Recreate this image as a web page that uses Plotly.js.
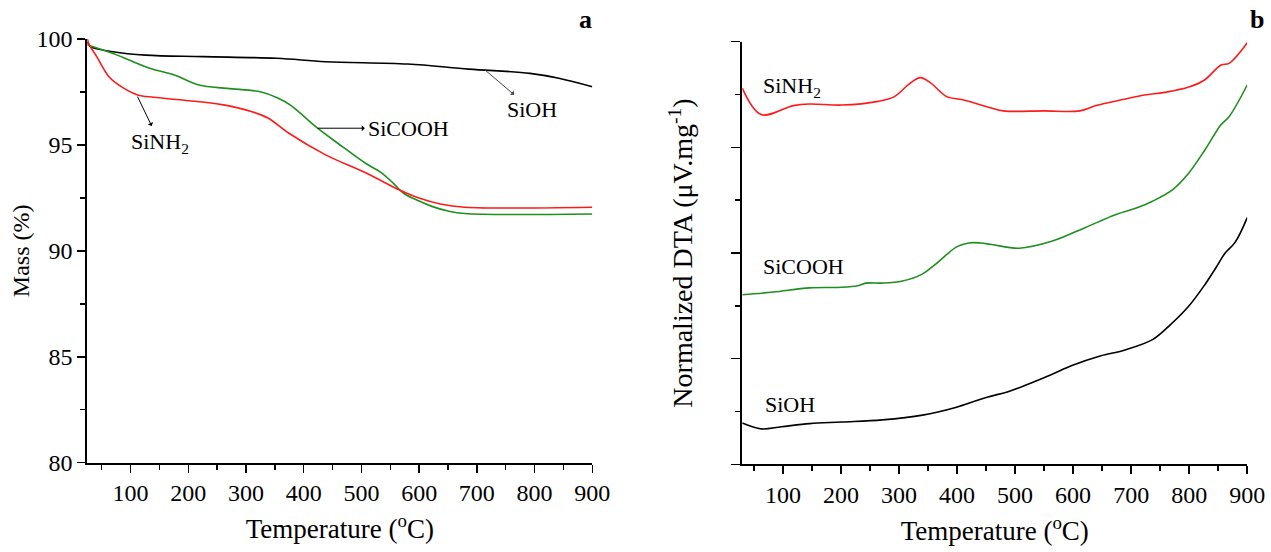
<!DOCTYPE html>
<html>
<head>
<meta charset="utf-8">
<script src="https://cdn.plot.ly/plotly-3.0.1.min.js"></script>
<style>html,body{margin:0;padding:0;background:#fff;}#chart{width:1271px;height:552px;}</style>
</head>
<body>
<div id="chart"></div>
<script>
// ---- Panel a: TGA mass (%) ----
const tgaSiOH_T = [25, 30.7, 69.6, 126, 225.5, 353, 438, 580, 686, 792, 842, 900];
const tgaSiOH_M = [99.87, 99.64, 99.40, 99.24, 99.17, 99.09, 98.93, 98.82, 98.58, 98.38, 98.15, 97.75];

const tgaSiNH2_T = [25, 28.5, 41.3, 62.5, 83.8, 112, 140.5, 190, 261, 310.5, 338.8, 374.3, 438, 509, 566, 601, 636.7, 679, 900];
const tgaSiNH2_M = [100, 99.72, 99.17, 98.22, 97.75, 97.36, 97.25, 97.12, 96.89, 96.57, 96.26, 95.55, 94.53, 93.66, 92.87, 92.48, 92.21, 92.06, 92.06];

const tgaSiCOOH_T = [25, 69.6, 133, 176, 218.5, 267.8, 324.7, 355, 377, 394, 424, 459, 509, 533, 555, 573, 600, 622, 650, 679, 900];
const tgaSiCOOH_M = [99.72, 99.32, 98.62, 98.30, 97.83, 97.67, 97.51, 97.22, 96.88, 96.50, 95.79, 95.08, 94.10, 93.72, 93.20, 92.72, 92.35, 92.10, 91.88, 91.76, 91.74];

// ---- Panel b: normalized DTA (arbitrary units) ----
const dtaSiNH2_T = [30, 62.7, 118, 146, 201.6, 264, 292, 319.8, 337, 354.5, 382.3, 410, 451.8, 479.6, 549, 611.6, 639.4, 688, 722.8, 757.6, 799.3, 827, 854.8, 868.7, 900];
const dtaSiNH2_V = [7.12, 6.62, 6.79, 6.82, 6.80, 6.87, 6.96, 7.22, 7.32, 7.22, 6.96, 6.90, 6.77, 6.69, 6.69, 6.69, 6.79, 6.91, 6.99, 7.04, 7.14, 7.28, 7.56, 7.59, 7.98];

const dtaSiCOOH_T = [30, 83.5, 146, 201.6, 229, 243, 271, 306, 340, 360, 380, 400, 420, 440, 460, 507, 563, 618.6, 674, 709, 736.8, 771.6, 799, 827, 855, 868.7, 900];
const dtaSiCOOH_V = [3.21, 3.26, 3.34, 3.35, 3.38, 3.43, 3.43, 3.47, 3.60, 3.76, 3.95, 4.12, 4.19, 4.19, 4.16, 4.09, 4.22, 4.47, 4.73, 4.85, 4.98, 5.20, 5.51, 5.95, 6.43, 6.58, 7.18];

const dtaSiOH_T = [30, 62.7, 97.4, 146, 201.6, 271, 340.6, 396, 451.8, 486.5, 521, 563, 598, 646.6, 688, 736.8, 764.6, 799, 827, 846, 862, 879, 900];
const dtaSiOH_V = [0.78, 0.67, 0.71, 0.77, 0.80, 0.84, 0.93, 1.07, 1.27, 1.37, 1.51, 1.70, 1.87, 2.05, 2.16, 2.36, 2.61, 2.99, 3.40, 3.72, 4.00, 4.20, 4.67];

const xTickVals = [100, 200, 300, 400, 500, 600, 700, 800, 900];
const massTickVals = [80, 85, 90, 95, 100];

const RED = '#ff1a1a', GREEN = '#1f8f1f', BLACK = '#000000';
const FONT = 'Liberation Serif, Times New Roman, serif';

const lw = 1.6;
const traces = [
  {x: tgaSiOH_T, y: tgaSiOH_M, xaxis: 'x', yaxis: 'y', mode: 'lines', line: {color: BLACK, width: lw, shape: 'spline'}, name: 'SiOH'},
  {x: tgaSiCOOH_T, y: tgaSiCOOH_M, xaxis: 'x', yaxis: 'y', mode: 'lines', line: {color: GREEN, width: lw, shape: 'spline'}, name: 'SiCOOH'},
  {x: tgaSiNH2_T, y: tgaSiNH2_M, xaxis: 'x', yaxis: 'y', mode: 'lines', line: {color: RED, width: lw, shape: 'spline'}, name: 'SiNH2'},
  {x: dtaSiNH2_T, y: dtaSiNH2_V, xaxis: 'x2', yaxis: 'y2', mode: 'lines', line: {color: RED, width: lw, shape: 'spline'}, name: 'SiNH2'},
  {x: dtaSiCOOH_T, y: dtaSiCOOH_V, xaxis: 'x2', yaxis: 'y2', mode: 'lines', line: {color: GREEN, width: lw, shape: 'spline'}, name: 'SiCOOH'},
  {x: dtaSiOH_T, y: dtaSiOH_V, xaxis: 'x2', yaxis: 'y2', mode: 'lines', line: {color: BLACK, width: lw, shape: 'spline'}, name: 'SiOH'}
];

const tickFont = {family: FONT, size: 24, color: '#000'};

function xAxis(domain, range, anchor) {
  return {
    domain: domain, range: range, anchor: anchor,
    tickmode: 'array', tickvals: xTickVals,
    ticks: 'outside', ticklen: 8, tickwidth: 1.5, tickcolor: '#000',
    minor: {tickmode: 'array', tickvals: [50,150,250,350,450,550,650,750,850], ticks: 'outside', ticklen: 5, tickwidth: 1.5, tickcolor: '#000'},
    showline: true, linecolor: '#000', linewidth: 2, showgrid: false, zeroline: false,
    tickfont: tickFont,
    title: {text: 'Temperature (<sup>o</sup>C)', font: {family: FONT, size: 27, color: '#000'}, standoff: 14},
    fixedrange: true
  };
}

const annFont = {family: FONT, size: 22, color: '#000'};

const layout = {
  width: 1271, height: 552,
  margin: {l: 0, r: 0, t: 0, b: 0},
  paper_bgcolor: '#fff', plot_bgcolor: '#fff',
  showlegend: false,
  font: {family: FONT, color: '#000'},
  xaxis: xAxis([0.0687, 0.4660], [25, 900], 'y'),
  xaxis2: xAxis([0.5840, 0.9813], [30, 900], 'y2'),
  yaxis: {
    domain: [0.1618, 0.9293], range: [80, 100], anchor: 'x',
    tickmode: 'array', tickvals: massTickVals,
    ticks: 'outside', ticklen: 8, tickwidth: 1.5, tickcolor: '#000',
    minor: {tickmode: 'array', tickvals: [82.5, 87.5, 92.5, 97.5], ticks: 'outside', ticklen: 5, tickwidth: 1.5, tickcolor: '#000'},
    showline: true, linecolor: '#000', linewidth: 2, showgrid: false, zeroline: false,
    tickfont: tickFont,
    title: {text: 'Mass (%)', font: {family: FONT, size: 24, color: '#000'}, standoff: 0},
    fixedrange: true
  },
  yaxis2: {
    domain: [0.1589, 0.9245], range: [0, 8], anchor: 'x2',
    tickmode: 'array', tickvals: [0, 2, 4, 6, 8], showticklabels: false,
    ticks: 'outside', ticklen: 9, tickwidth: 1.5, tickcolor: '#000',
    minor: {tickmode: 'array', tickvals: [1, 3, 5, 7], ticks: 'outside', ticklen: 5, tickwidth: 1.5, tickcolor: '#000'},
    showline: true, linecolor: '#000', linewidth: 2, showgrid: false, zeroline: false,
    title: {text: 'Normalized DTA (μV.mg<sup>-1</sup>)', font: {family: FONT, size: 28, color: '#000'}, standoff: 30},
    fixedrange: true
  },
  annotations: [
    {xref: 'paper', yref: 'paper', x: 0.461, y: 0.9638, xanchor: 'center', yanchor: 'middle', text: '<b>a</b>', showarrow: false, font: {family: FONT, size: 26, color: '#000'}},
    {xref: 'paper', yref: 'paper', x: 0.989, y: 0.9638, xanchor: 'center', yanchor: 'middle', text: '<b>b</b>', showarrow: false, font: {family: FONT, size: 26, color: '#000'}},
    // panel a labels (text at ax/ay, arrow tail on curve at x/y, head at text side)
    {xref: 'x', yref: 'y', axref: 'x', ayref: 'y', x: 714, y: 98.54, ax: 796, ay: 96.65, text: 'SiOH', showarrow: true, arrowside: 'start', arrowhead: 2, arrowsize: 1.2, arrowwidth: 1, arrowcolor: '#444', startstandoff: 2, font: annFont},
    {xref: 'x', yref: 'y', axref: 'x', ayref: 'y', x: 424, y: 95.79, ax: 582, ay: 95.79, text: 'SiCOOH', showarrow: true, arrowside: 'start', arrowhead: 2, arrowsize: 1.2, arrowwidth: 1, arrowcolor: '#000', startstandoff: 2, font: annFont},
    {xref: 'x', yref: 'y', axref: 'x', ayref: 'y', x: 112, y: 97.28, ax: 151, ay: 95.08, text: 'SiNH<sub>2</sub>', showarrow: true, arrowside: 'start', arrowhead: 2, arrowsize: 1.2, arrowwidth: 1, arrowcolor: '#000', startstandoff: 2, font: annFont},
    // panel b labels
    {xref: 'x2', yref: 'y2', x: 63, y: 7.15, xanchor: 'left', text: 'SiNH<sub>2</sub>', showarrow: false, font: annFont},
    {xref: 'x2', yref: 'y2', x: 63, y: 3.75, xanchor: 'left', text: 'SiCOOH', showarrow: false, font: annFont},
    {xref: 'x2', yref: 'y2', x: 65, y: 1.13, xanchor: 'left', text: 'SiOH', showarrow: false, font: annFont}
  ]
};

Plotly.newPlot('chart', traces, layout, {staticPlot: true, displayModeBar: false});
</script>
</body>
</html>
